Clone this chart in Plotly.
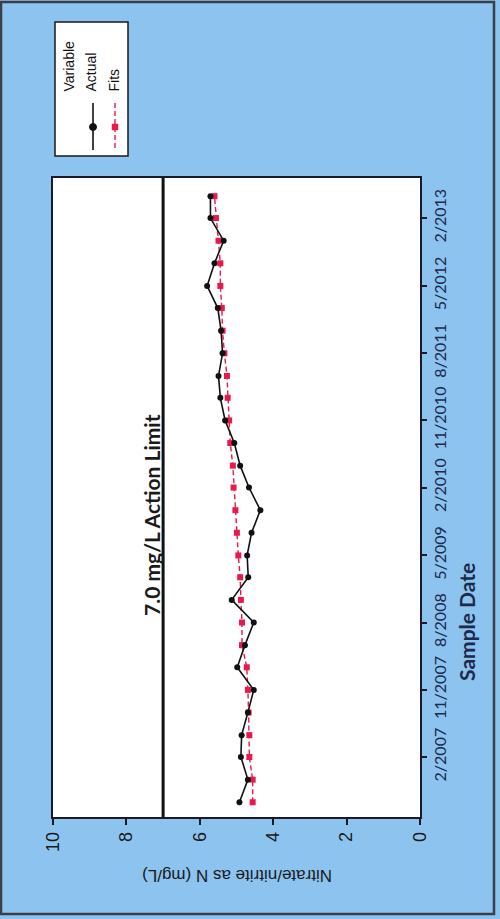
import plotly.graph_objects as go

# Quarterly sample dates
sample_dates = [
    "2006-08-01", "2006-11-01", "2007-02-01", "2007-05-01", "2007-08-01", "2007-11-01",
    "2008-02-01", "2008-05-01", "2008-08-01", "2008-11-01", "2009-02-01", "2009-05-01",
    "2009-08-01", "2009-11-01", "2010-02-01", "2010-05-01", "2010-08-01", "2010-11-01",
    "2011-02-01", "2011-05-01", "2011-08-01", "2011-11-01", "2012-02-01", "2012-05-01",
    "2012-08-01", "2012-11-01", "2013-02-01", "2013-05-01",
]

# Nitrate/nitrite as N (mg/L)
actual = [
    4.92, 4.69, 4.88, 4.86, 4.69, 4.53, 4.98, 4.77, 4.53, 5.13, 4.68, 4.71,
    4.59, 4.35, 4.66, 4.90, 5.06, 5.31, 5.44, 5.49, 5.38, 5.42, 5.51, 5.80,
    5.60, 5.35, 5.71, 5.71,
]
fits = [
    4.56, 4.56, 4.65, 4.65, 4.67, 4.69, 4.72, 4.85, 4.85, 4.88, 4.90, 4.95,
    4.99, 5.03, 5.08, 5.10, 5.17, 5.20, 5.24, 5.26, 5.33, 5.38, 5.40, 5.44,
    5.44, 5.49, 5.56, 5.60,
]

action_limit = 7.0

date_tick_vals = ["2007-02-01", "2007-11-01", "2008-08-01", "2009-05-01", "2010-02-01",
                  "2010-11-01", "2011-08-01", "2012-05-01", "2013-02-01"]
date_tick_text = ["2/2007", "11/2007", "8/2008", "5/2009", "2/2010",
                  "11/2010", "8/2011", "5/2012", "2/2013"]
value_ticks = [0, 2, 4, 6, 8, 10]

W, H = 500, 919
L, R, T, B = 53, 420, 178, 817  # plot area in pixels


def px(x):
    return (x - L) / (R - L)


def py(y):
    return (B - y) / (B - T)


BG = "#8cc3ef"
RED = "#e8194b"
NAVY = "#1c2a4c"

fig = go.Figure()

fig.add_trace(go.Scatter(
    x=fits, y=sample_dates, mode="lines+markers", name="Fits",
    line=dict(color=RED, width=1.4, dash="5px,3px"),
    marker=dict(symbol="square", size=6, color=RED),
))
fig.add_trace(go.Scatter(
    x=actual, y=sample_dates, mode="lines+markers", name="Actual",
    line=dict(color="#111111", width=1.6),
    marker=dict(symbol="circle", size=6, color="#111111"),
))

# Action limit line
fig.add_shape(type="line", xref="x", yref="paper", x0=action_limit, x1=action_limit,
              y0=0, y1=1, line=dict(color="#111111", width=3))

annotations = [
    dict(text="<b>7.0 mg/L Action Limit</b>", x=px(151), y=py(515), textangle=-90,
         font=dict(family="Lato", size=21, color="#1a1a1a")),
    dict(text="<b>Sample Date</b>", x=px(466), y=py(622), textangle=-90,
         font=dict(family="Lato", size=21, color=NAVY)),
    dict(text="Nitrate/nitrite as N (mg/L)", x=px(237), y=py(876), textangle=180,
         font=dict(family="Liberation Sans", size=17, color="#1a1a1a")),
    dict(text="Variable", x=px(68), y=py(94), textangle=-90, yanchor="bottom",
         font=dict(family="Liberation Sans", size=14, color="#111111")),
    dict(text="Actual", x=px(90), y=py(94), textangle=-90, yanchor="bottom",
         font=dict(family="Liberation Sans", size=14, color="#111111")),
    dict(text="Fits", x=px(113), y=py(94), textangle=-90, yanchor="bottom",
         font=dict(family="Liberation Sans", size=14, color="#111111")),
]
for a in annotations:
    a.update(xref="paper", yref="paper", showarrow=False)
    a.setdefault("xanchor", "center")
    a.setdefault("yanchor", "middle")

shapes_paper = [
    # legend box
    dict(type="rect", x0=px(55), x1=px(128), y0=py(22), y1=py(156),
         line=dict(color="#1a1a1a", width=1.5), fillcolor="white", layer="below"),
    # legend samples
    dict(type="line", x0=px(93), x1=px(93), y0=py(103), y1=py(150),
         line=dict(color="#111111", width=1.6)),
    dict(type="circle", x0=px(89.5), x1=px(96.5), y0=py(123.5), y1=py(130.5),
         line=dict(color="#111111", width=1), fillcolor="#111111"),
    dict(type="line", x0=px(115), x1=px(115), y0=py(103), y1=py(150),
         line=dict(color=RED, width=1.4, dash="5px,3px")),
    dict(type="rect", x0=px(112), x1=px(118), y0=py(124), y1=py(130),
         line=dict(color=RED, width=0.5), fillcolor=RED),
    # outer frame of the page
    dict(type="rect", x0=px(1), x1=px(494), y0=py(2), y1=py(914),
         line=dict(color="#3a3f48", width=2.5)),
]
for s in shapes_paper:
    s.update(xref="paper", yref="paper")
    fig.add_shape(**s)

fig.update_layout(
    width=W, height=H,
    margin=dict(l=L, r=W - R, t=T, b=H - B, pad=0),
    paper_bgcolor=BG, plot_bgcolor="white",
    showlegend=False,
    annotations=annotations,
    xaxis=dict(
        range=[10, 0], tickvals=value_ticks, ticktext=[str(v) for v in value_ticks],
        tickangle=-90, ticks="outside", ticklen=6, tickwidth=1.5, tickcolor="#1a1a1a",
        showgrid=False, zeroline=False, showline=True, linecolor="#1a1a2a", linewidth=1.5,
        mirror=True, tickfont=dict(family="Liberation Sans", size=18, color="#1a1a1a"),
    ),
    yaxis=dict(
        type="date", range=["2006-06-02", "2013-07-14"], side="right",
        tickvals=date_tick_vals, ticktext=date_tick_text, tickangle=-90,
        ticks="outside", ticklen=5, tickwidth=1.5, tickcolor="#1a1a2a",
        showgrid=False, zeroline=False, showline=True, linecolor="#1a1a2a", linewidth=1.5,
        mirror=True, tickfont=dict(family="Lato", size=16, color=NAVY),
    ),
)

fig.write_html("out.html")
